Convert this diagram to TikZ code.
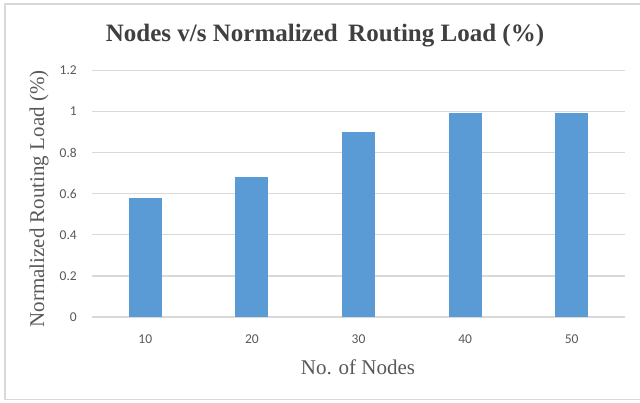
\documentclass[tikz,border=0pt]{standalone}
\usepackage{fontspec}
\setmainfont{Liberation Serif}
\newfontfamily\tickfont{Carlito}
\definecolor{barblue}{HTML}{5B9BD5}
\definecolor{gridgray}{HTML}{D9D9D9}
\definecolor{ticktext}{HTML}{595959}
\definecolor{titletext}{HTML}{404040}
\tikzset{
  gridline/.style={draw=gridgray, line width=1.3pt},
  bar/.style={fill=barblue},
  ticklbl/.style={font=\tickfont\fontsize{13.5}{15}\selectfont, text=ticktext, inner sep=0pt},
  axistitle/.style={font=\fontsize{21}{24}\selectfont, text=ticktext, inner sep=0pt},
  charttitle/.style={font=\bfseries\fontsize{25}{29}\selectfont, text=titletext, inner sep=0pt}
}
\begin{document}
\begin{tikzpicture}[x=1pt,y=-1pt]
\useasboundingbox (0,0) rectangle (640,403);
\fill[white] (0,0) rectangle (640,403);
\draw[draw=gridgray, line width=1.2pt] (645,4) -- (5,4) -- (5,399.5) -- (645,399.5);
% gridlines
\foreach \v/\l [count=\i] in {0/0,0.2/0.2,0.4/0.4,0.6/0.6,0.8/0.8,1/1,1.2/1.2} {
  \draw[gridline] (92,{317-\v*205.6}) -- (625,{317-\v*205.6});
  \node[ticklbl, anchor=east] (y\i) at (77,{317-\v*205.6}) {\l};
}
% bars
\foreach \c/\v [count=\i] in {10/0.58,20/0.68,30/0.90,40/0.99,50/0.99} {
  \pgfmathsetmacro{\xc}{92+(\i-0.5)*106.6}
  \fill[bar] ({\xc-16.5},317) rectangle ({\xc+16.5},{317-\v*205.6});
  \node[ticklbl] (x\i) at (\xc,339) {\c};
}
\node[charttitle] (title) at (325,36) {Nodes v/s Normalized\, Routing Load (\%)};
\node[axistitle, rotate=90] (ylab) at (39,199) {Normalized Routing Load (\%)};
\node[axistitle] (xlab) at (358,367) {No. of Nodes};
\end{tikzpicture}
\end{document}
